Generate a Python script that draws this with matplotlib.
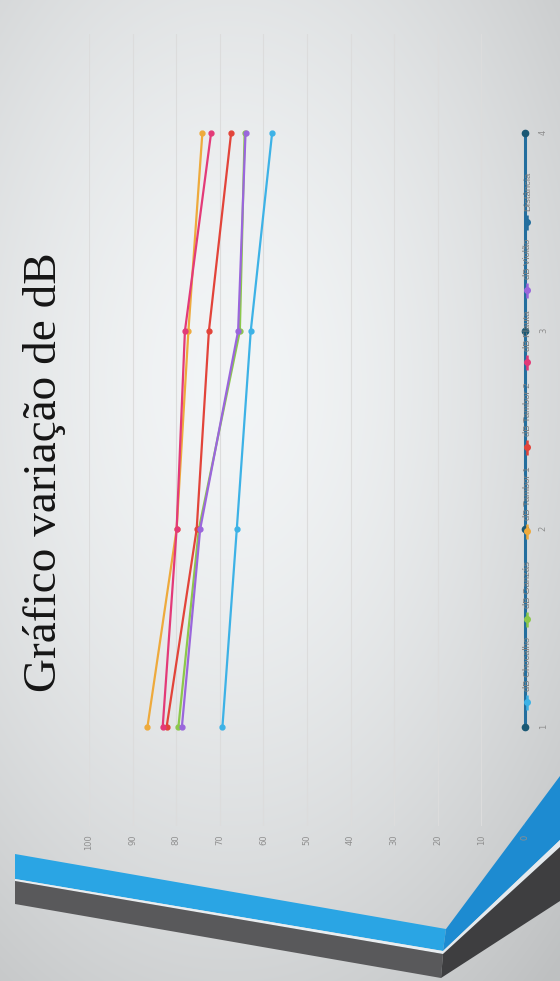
import numpy as np
import matplotlib
matplotlib.use("Agg")
import matplotlib.pyplot as plt
from matplotlib.patches import Polygon

# ---- data -------------------------------------------------------------
categories = [1, 2, 3, 4]
series_names = ["dB Chocalho", "dB Ganzás", "dB Tambor 1", "dB Tambor 2",
                "dB Flauta", "dB Violão", "Distância"]
chocalho = [69.4, 66.1, 62.9, 58.0]
ganzas = [79.5, 74.8, 65.4, 64.3]
tambor1 = [86.6, 79.9, 77.2, 74.0]
tambor2 = [82.2, 75.3, 72.5, 67.4]
flauta = [83.1, 79.9, 78.0, 72.0]
violao = [78.7, 74.5, 65.8, 64.1]
distancia = [0, 0, 0, 0]
value_ticks = list(range(0, 101, 10))
title = "Gráfico variação de dB"

series_values = [chocalho, ganzas, tambor1, tambor2, flauta, violao, distancia]
series_colors = ["#3db2e6", "#8cc84b", "#eeaa3c", "#e2443a",
                 "#e33a78", "#9a66dc", "#236e9e"]

W, H = 560, 981
fig = plt.figure(figsize=(W / 100, H / 100), dpi=100)

# ---- slide background ---------------------------------------------------
bg = fig.add_axes([0, 0, 1, 1], zorder=0)
bg.set_xlim(0, W)
bg.set_ylim(H, 0)
bg.axis("off")
yy, xx = np.mgrid[0:H, 0:W]
d = np.sqrt(((xx - 230) / 430.0) ** 2 + ((yy - 380) / 700.0) ** 2)
shade = np.clip(0.965 - 0.17 * d ** 1.6, 0.76, 0.97)
img = np.dstack([shade * 0.985, shade * 0.995, shade])
bg.imshow(img, extent=(0, W, H, 0), aspect="auto", interpolation="bilinear")

bands = [
    ([(15, 854), (446, 929), (443, 951), (15, 879)], "#2aa5e4"),
    ([(15, 879), (443, 951), (443, 954), (15, 881)], "#e9eef1"),
    ([(15, 881), (443, 954), (441, 978), (15, 904)], "#59595b"),
    ([(446, 929), (560, 776), (560, 840), (443, 951)], "#1d8bd1"),
    ([(443, 951), (560, 840), (560, 847), (443, 954)], "#e4eaee"),
    ([(443, 954), (560, 847), (560, 901), (441, 978)], "#3e3e40"),
]
for pts, col in bands:
    bg.add_patch(Polygon(pts, closed=True, facecolor=col, edgecolor="none"))

# ---- title ---------------------------------------------------------------
fig.text(45 / W, 1 - 472 / H, title, rotation=90, ha="center", va="center",
         fontsize=34, family="Liberation Serif", color="#151515")

# ---- chart (value axis horizontal, categories vertical) ---------------------
ax = fig.add_axes([89 / W, 1 - 826 / H, (525 - 89) / W, (826 - 34) / H], zorder=2)
ax.patch.set_alpha(0)
ax.set_xlim(100, 0)
ax.set_ylim(0.5, 4.5)
for s in ax.spines.values():
    s.set_visible(False)
ax.set_xticks(value_ticks)
ax.set_xticklabels([str(v) for v in value_ticks])
ax.grid(axis="x", color="#dcdcdc", lw=0.8)
ax.set_axisbelow(True)
ax.yaxis.tick_right()
ax.set_yticks(categories)
ax.set_yticklabels([str(c) for c in categories])
ax.tick_params(axis="x", length=0, pad=6, labelrotation=90, labelsize=6,
               labelcolor="#8f8f8f")
ax.tick_params(axis="y", length=0, pad=10, labelrotation=90, labelsize=6,
               labelcolor="#8f8f8f")

for name, vals, col in zip(series_names, series_values, series_colors):
    if name == "Distância":
        ax.plot(vals, categories, color=col, lw=2.2, marker="o", ms=4.5,
                mfc="#1a5874", mec="#1a5874", clip_on=False, zorder=4)
    else:
        ax.plot(vals, categories, color=col, lw=1.6, marker="o", ms=3.5,
                clip_on=False, zorder=3)

# ---- legend, laid out along the category axis ----------------------------
ov = fig.add_axes([0, 0, 1, 1], zorder=5)
ov.set_xlim(0, W)
ov.set_ylim(H, 0)
ov.axis("off")
legend_slots = [702, 619, 531, 447, 362, 290, 222]   # pixel rows of the keys
lx = 527
for name, col, ym in zip(series_names, series_colors, legend_slots):
    ov.plot([lx, lx], [ym + 7.5, ym - 7.5], color=col, lw=1.8,
            solid_capstyle="butt")
    ov.plot([lx], [ym], marker="o", ms=4, color=col)
    ov.text(lx + 1, ym - 11, name, rotation=90, ha="center", va="bottom",
            fontsize=6.8, color="#7f7f7f", family="Liberation Sans")

fig.savefig("out.png", dpi=100)
